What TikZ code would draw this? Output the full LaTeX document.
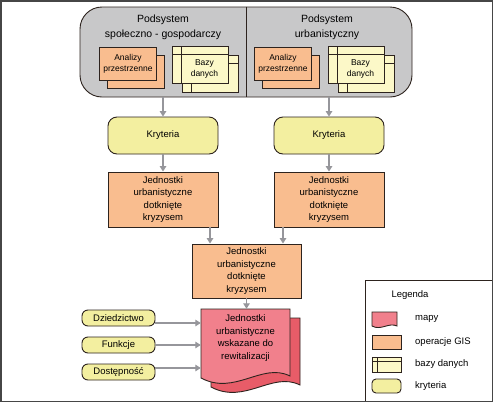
\documentclass[tikz,border=0pt]{standalone}
\usepackage{fontspec}
\setmainfont{Liberation Sans}
\usetikzlibrary{arrows.meta}
\definecolor{sysgray}{RGB}{200,200,201}
\definecolor{gisorange}{RGB}{249,189,143}
\definecolor{kritcol}{RGB}{243,239,160}
\definecolor{dbcol}{RGB}{252,248,200}
\definecolor{mapfront}{RGB}{241,128,140}
\definecolor{mapback}{RGB}{232,92,104}
\definecolor{arrgray}{RGB}{150,150,155}
\definecolor{edgecol}{RGB}{45,35,30}
\definecolor{framecol}{RGB}{70,70,70}
\newcommand{\mainsize}{\fontsize{9.5}{12.6}\selectfont}
\newcommand{\smallsize}{\fontsize{8.5}{11}\selectfont}
\newcommand{\bigsize}{\fontsize{10.5}{14.5}\selectfont}
\begin{document}
\begin{tikzpicture}[x=1pt,y=-1pt,
  outl/.style={draw=edgecol, line width=0.9pt},
  gisbox/.style={outl, fill=gisorange, minimum width=110pt, minimum height=55pt, inner sep=0pt, align=center, font=\mainsize},
  smallgis/.style={outl, fill=gisorange, minimum width=57pt, minimum height=33pt, inner sep=0pt, align=center, font=\smallsize},
  dbbox/.style={outl, fill=dbcol, minimum width=56pt, minimum height=37pt, inner sep=0pt,
    path picture={
      \draw[edgecol, line width=0.9pt] ([xshift=9pt]path picture bounding box.north west) -- ([xshift=9pt]path picture bounding box.south west);
      \draw[edgecol, line width=0.9pt] ([yshift=-8pt]path picture bounding box.north west) -- ([yshift=-8pt]path picture bounding box.north east);
    }},
  krit/.style={outl, fill=kritcol, rounded corners=9pt, minimum width=110pt, minimum height=37pt, inner sep=0pt, align=center, font=\mainsize},
  inbox/.style={outl, fill=kritcol, rounded corners=6pt, minimum width=73pt, minimum height=16pt, inner sep=0pt, align=center, font=\mainsize},
  txt/.style={inner sep=0pt, align=center},
  arr/.style={draw=arrgray, line width=1.3pt, -{Triangle[length=5.5pt,width=6.5pt]}}
]
\useasboundingbox (0,0) rectangle (493,402);
\fill[white] (0,0) rectangle (493,402);

% top container
\node[outl, fill=sysgray, rounded corners=22pt, minimum width=332pt, minimum height=90pt, inner sep=0pt] (sys) at (246,52) {};
\draw[edgecol, line width=0.9pt] (sys.north) -- (sys.south);
\node[txt, font=\bigsize] (ps1) at (163,27.5) {Podsystem\\społeczno - gospodarczy};
\node[txt, font=\bigsize] (ps2) at (327,27.5) {Podsystem\\urbanistyczny};

% left stacks
\node[smallgis] (an1b) at (136,72) {};
\node[smallgis] (an1) at (128,63.5) {Analizy\\przestrzenne};
\node[dbbox] (db1b) at (210,74) {};
\node[dbbox] (db1) at (200,64.5) {};
\node[txt, font=\smallsize] (db1t) at (204.5,69) {Bazy\\danych};

% right stacks
\node[smallgis] (an2b) at (291,72) {};
\node[smallgis] (an2) at (283,63.5) {Analizy\\przestrzenne};
\node[dbbox] (db2b) at (366,74) {};
\node[dbbox] (db2) at (356,64.5) {};
\node[txt, font=\smallsize] (db2t) at (360.5,69) {Bazy\\danych};

% criteria
\node[krit] (kr1) at (163,135.5) {Kryteria};
\node[krit] (kr2) at (329,135.5) {Kryteria};

% GIS units
\node[gisbox] (jed1) at (163,199.5) {Jednostki\\urbanistyczne\\dotknięte\\kryzysem};
\node[gisbox] (jed2) at (329,199.5) {Jednostki\\urbanistyczne\\dotknięte\\kryzysem};
\node[gisbox, minimum width=109pt, minimum height=54pt] (jed3) at (246.5,271) {Jednostki\\urbanistyczne\\dotknięte\\kryzysem};

% map document
\draw[outl, fill=mapback] (211,318) -- (300,318) -- (300,385)
  .. controls (272,371) and (245,405) .. (211,387) -- cycle;
\draw[outl, fill=mapfront] (201,309) -- (290,309) -- (290,376)
  .. controls (262,362) and (235,396) .. (201,378) -- cycle;
\node[txt, font=\mainsize, minimum width=89pt, minimum height=58pt] (doc) at (245.5,338) {Jednostki\\urbanistyczne\\wskazane do\\rewitalizacji};

% inputs
\node[inbox] (dz) at (118.5,318) {Dziedzictwo};
\node[inbox] (fu) at (118.5,345) {Funkcje};
\node[inbox] (do) at (118.5,372) {Dostępność};

% connectors
\draw[arr] (sys.south -| kr1.north) -- (kr1.north);
\draw[arr] (sys.south -| kr2.north) -- (kr2.north);
\draw[arr] (kr1.south) -- (jed1.north);
\draw[arr] (kr2.south) -- (jed2.north);
\draw[arr] ([xshift=-36.5pt]jed3.north |- jed1.south) -- ([xshift=-36.5pt]jed3.north);
\draw[arr] ([xshift=36.5pt]jed3.north |- jed2.south) -- ([xshift=36.5pt]jed3.north);
\draw[arr] (jed3.south) -- (jed3.south |- doc.north);
\draw[arr] ([yshift=-5pt]dz.east) -- ([yshift=-5pt]dz.east -| doc.west);
\draw[arr] (fu.east) -- (fu.east -| doc.west);
\draw[arr] ([yshift=4pt]do.east) -- ([yshift=4pt]do.east -| doc.west);

% legend
\draw[edgecol, line width=0.9pt] (365,401) -- (365,280) -- (492,280);
\node[txt, font=\mainsize] (leg) at (410,295) {Legenda};
\draw[outl, fill=mapfront] (372,312) -- (397,312) -- (397,326)
  .. controls (389,322) and (381,331) .. (372,326) -- cycle;
\node[outl, fill=gisorange, minimum width=29pt, minimum height=14pt, inner sep=0pt] (lg2) at (386.5,342.5) {};
\node[dbbox, minimum width=29pt, minimum height=15pt, path picture={
      \draw[edgecol, line width=0.9pt] ([xshift=5pt]path picture bounding box.north west) -- ([xshift=5pt]path picture bounding box.south west);
      \draw[edgecol, line width=0.9pt] ([yshift=-4pt]path picture bounding box.north west) -- ([yshift=-4pt]path picture bounding box.north east);}] (lg3) at (386.5,364.5) {};
\node[outl, fill=kritcol, rounded corners=4pt, minimum width=29pt, minimum height=14pt, inner sep=0pt] (lg4) at (386.5,386) {};
\node[txt, font=\mainsize, anchor=west] (lt1) at (415,319) {mapy};
\node[txt, font=\mainsize, anchor=west] (lt2) at (415,342) {operacje GIS};
\node[txt, font=\mainsize, anchor=west] (lt3) at (415,364) {bazy danych};
\node[txt, font=\mainsize, anchor=west] (lt4) at (415,386) {kryteria};

% frame
\draw[framecol, line width=1.5pt] (0.75,0.75) rectangle (492.25,401.25);
\end{tikzpicture}
\end{document}
